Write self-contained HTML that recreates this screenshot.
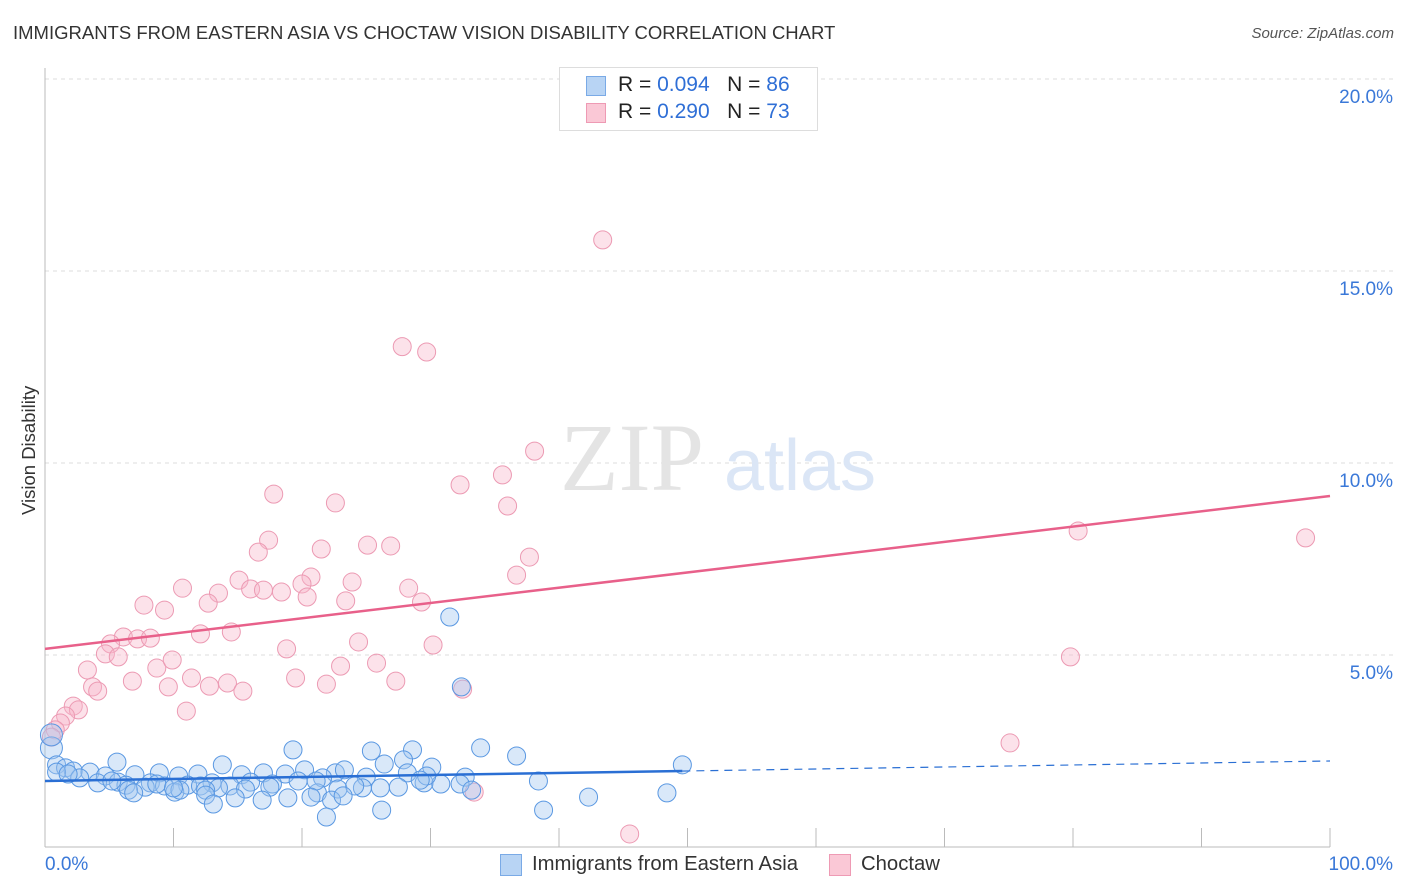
<!DOCTYPE html>
<html><head><meta charset="utf-8"><style>
body{margin:0;background:#fff;font-family:"Liberation Sans",sans-serif;}
#wrap{position:relative;width:1406px;height:892px;overflow:hidden;}
.t{position:absolute;white-space:nowrap;}
</style></head><body>
<div id="wrap">
<div class="t" style="left:13px;top:22px;font-size:18.5px;color:#333;">IMMIGRANTS FROM EASTERN ASIA VS CHOCTAW VISION DISABILITY CORRELATION CHART</div>
<div class="t" style="right:12px;top:25px;font-size:15px;color:#555;font-style:italic;">Source: ZipAtlas.com</div>
<svg id="svg" width="1406" height="892" style="position:absolute;left:0;top:0"></svg>
<div style="position:absolute;left:559px;top:67px;width:257px;height:62px;border:1px solid #ddd;background:#fff;">
 <div style="position:absolute;left:26px;top:8px;width:20px;height:20px;background:#b8d4f4;border:1px solid #7aaae6;box-sizing:border-box"></div>
 <div class="t" style="left:58px;top:5px;font-size:21px;color:#222">R = <span style="color:#2f6fd6">0.094</span>&nbsp;&nbsp;&nbsp;N = <span style="color:#2f6fd6">86</span></div>
 <div style="position:absolute;left:26px;top:35px;width:20px;height:20px;background:#fac8d6;border:1px solid #ee9ab4;box-sizing:border-box"></div>
 <div class="t" style="left:58px;top:32px;font-size:21px;color:#222">R = <span style="color:#2f6fd6">0.290</span>&nbsp;&nbsp;&nbsp;N = <span style="color:#2f6fd6">73</span></div>
</div>
<div style="position:absolute;left:0;top:852px;width:1406px;height:30px;">
 <div style="position:absolute;left:500px;top:2px;width:22px;height:22px;background:#b8d4f4;border:1px solid #7aaae6;box-sizing:border-box"></div>
 <div class="t" style="left:532px;top:1px;font-size:20.3px;color:#333">Immigrants from Eastern Asia</div>
 <div style="position:absolute;left:829px;top:2px;width:22px;height:22px;background:#fac8d6;border:1px solid #ee9ab4;box-sizing:border-box"></div>
 <div class="t" style="left:861px;top:1px;font-size:20.3px;color:#333">Choctaw</div>
</div>
<div class="t" style="left:-31px;top:444px;font-size:18.5px;color:#333;transform:rotate(-90deg);width:120px;text-align:center;">Vision Disability</div>
</div>
<script>
const xTicks=[0,10,20,30,40,50,60,70,80,90,100];
const yTicks=[5,10,15,20];
const yTickLabels=["5.0%","10.0%","15.0%","20.0%"];
const xLabels=["0.0%","100.0%"];
const blueX=[31.5,32.4,0.5,0.5,5.6,19.3,28.6,33.9,25.4,36.7,27.9,49.6,13.8,26.4,22.6,0.9,1.6,2.2,3.5,4.7,7.0,8.9,10.4,11.9,15.3,17.0,18.7,20.2,21.6,23.3,25.0,28.2,30.1,32.7,38.4,2.7,4.1,5.7,6.3,8.2,9.3,11.1,13.0,14.4,16.0,17.7,19.7,21.2,22.8,24.7,26.1,27.5,29.5,30.8,0.9,1.8,5.2,7.8,8.7,12.1,13.5,15.6,17.5,21.1,29.7,32.3,6.5,10.1,12.5,14.8,16.9,18.9,20.7,22.3,24.1,26.2,29.2,33.2,6.9,10.5,12.5,13.1,21.9,38.8,42.3,48.4,10.0,23.2];
const blueY=[5.99,4.17,2.58,2.92,2.21,2.53,2.53,2.58,2.50,2.37,2.27,2.14,2.14,2.16,1.93,2.14,2.06,1.98,1.95,1.85,1.88,1.93,1.85,1.90,1.88,1.93,1.90,2.01,1.80,2.01,1.82,1.93,2.08,1.82,1.72,1.80,1.67,1.69,1.61,1.67,1.59,1.61,1.67,1.59,1.69,1.64,1.72,1.41,1.51,1.54,1.54,1.56,1.67,1.64,1.95,1.90,1.72,1.56,1.64,1.59,1.54,1.51,1.56,1.72,1.85,1.64,1.48,1.43,1.48,1.28,1.22,1.28,1.30,1.22,1.59,0.96,1.74,1.48,1.41,1.48,1.35,1.12,0.78,0.96,1.30,1.41,1.54,1.33];
const pinkX=[43.4,27.8,29.7,38.1,35.6,32.3,17.8,22.6,36.0,17.4,21.5,25.1,26.9,16.6,37.7,36.7,20.7,10.7,15.1,23.9,28.3,13.5,16.0,17.0,18.4,20.0,20.4,23.4,29.3,7.7,9.3,12.7,6.1,7.2,8.2,5.1,12.1,14.5,24.4,30.2,4.7,5.7,18.8,3.3,8.7,9.9,23.0,25.8,6.8,11.4,19.5,3.7,4.1,9.6,12.8,14.2,15.4,21.9,27.3,32.5,11.0,2.2,2.6,1.6,1.2,0.8,0.5,80.4,98.1,79.8,75.1,33.4,45.5];
const pinkY=[15.81,13.03,12.89,10.31,9.69,9.43,9.19,8.96,8.88,7.99,7.76,7.86,7.84,7.68,7.55,7.08,7.03,6.74,6.95,6.90,6.74,6.61,6.72,6.69,6.64,6.85,6.51,6.41,6.38,6.30,6.17,6.35,5.47,5.42,5.44,5.29,5.55,5.60,5.34,5.26,5.03,4.95,5.16,4.61,4.66,4.87,4.71,4.79,4.32,4.40,4.40,4.17,4.06,4.17,4.19,4.27,4.06,4.24,4.32,4.11,3.54,3.67,3.57,3.41,3.23,3.05,2.86,8.23,8.05,4.95,2.71,1.43,0.34];
const blueTrend=[1.72,2.24];
const pinkTrend=[5.16,9.14];
const blueSolidEnd=49.6;
const svg=document.getElementById('svg');const NS='http://www.w3.org/2000/svg';
const X=v=>45+v*12.85, Y=v=>847-v*38.4;
function mk(t,a,name){const e=document.createElementNS(NS,t);for(const k in a)e.setAttribute(k,a[k]);


svg.appendChild(e);return e;}
yTicks.forEach((v,i)=>{mk('line',{x1:45,x2:1393,y1:Y(v),y2:Y(v),stroke:'#ddd','stroke-dasharray':'4,4'},'gridline');
const t=mk('text',{x:1393,y:Y(v)+24,'text-anchor':'end','font-size':19,fill:'#3a78d8','font-family':'Liberation Sans'},'y-tick-label');t.textContent=yTickLabels[i];});
mk('line',{x1:45,x2:45,y1:68,y2:847,stroke:'#bbb'},'y-axis-line');
mk('line',{x1:45,x2:1330,y1:847,y2:847,stroke:'#bbb'},'x-axis-line');
xTicks.forEach(v=>mk('line',{x1:X(v),x2:X(v),y1:828,y2:847,stroke:'#bbb'},'x-tick'));
let t=mk('text',{x:45,y:870,'font-size':19,fill:'#3a78d8','font-family':'Liberation Sans'},'x-tick-label');t.textContent=xLabels[0];
t=mk('text',{x:1393,y:870,'text-anchor':'end','font-size':19,fill:'#3a78d8','font-family':'Liberation Sans'},'x-tick-label');t.textContent=xLabels[1];
t=mk('text',{x:632,y:490,'text-anchor':'middle','font-size':96,fill:'#e4e4e4','font-family':'Liberation Serif'},'watermark-zip');t.textContent='ZIP';
t=mk('text',{x:800,y:490,'text-anchor':'middle','font-size':72,fill:'#dbe6f6','font-family':'Liberation Sans'},'watermark-atlas');t.textContent='atlas';
pinkX.forEach((x,i)=>mk('circle',{cx:X(x),cy:Y(pinkY[i]),r:9,fill:'rgba(248,182,202,0.4)',stroke:'#ec9ab3','stroke-width':1},'choctaw-point'));
blueX.forEach((x,i)=>mk('circle',{cx:X(x),cy:Y(blueY[i]),r:(i==2||i==3)?11:9,fill:'rgba(160,198,240,0.4)',stroke:'#5a98e2','stroke-width':1},'eastern-asia-point'));
const bAt=v=>blueTrend[0]+(blueTrend[1]-blueTrend[0])*v/100;
mk('line',{x1:X(0),y1:Y(bAt(0)),x2:X(blueSolidEnd),y2:Y(bAt(blueSolidEnd)),stroke:'#2a6fd4','stroke-width':2.5},'eastern-asia-trendline');
mk('line',{x1:X(blueSolidEnd),y1:Y(bAt(blueSolidEnd)),x2:X(100),y2:Y(bAt(100)),stroke:'#2a6fd4','stroke-width':1.2,'stroke-dasharray':'8,6'},'eastern-asia-trendline-extension');
mk('line',{x1:X(0),y1:Y(pinkTrend[0]),x2:X(100),y2:Y(pinkTrend[1]),stroke:'#e8608a','stroke-width':2.5},'choctaw-trendline');
</script>
</body></html>
